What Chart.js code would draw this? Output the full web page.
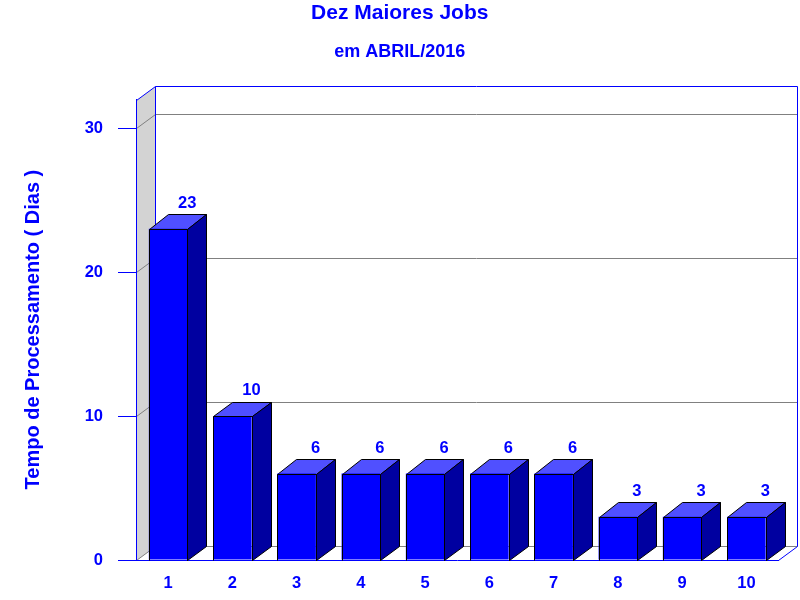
<!DOCTYPE html>
<html>
<head>
<meta charset="utf-8">
<title>Dez Maiores Jobs</title>
<script src="https://cdn.jsdelivr.net/npm/chart.js@4"></script>
<style>
    body { margin: 0; background: #fff; }
    canvas { display: block; }
</style>
</head>
<body>
<canvas id="jobs" width="800" height="600"></canvas>
<script>
let categories = ["1", "2", "3", "4", "5", "6", "7", "8", "9", "10"];
let dias = [23, 10, 6, 6, 6, 6, 6, 3, 3, 3];
let yTicks = [0, 10, 20, 30];

const BLUE = '#0000ff';
const FONT = '"Liberation Sans", Arial, sans-serif';
// depth of the fake 3d box, in pixels
const DX = 19;
const DY = 14.4;

function crisp(v) {
    return Math.round(v) + 0.5;
}

function line(ctx, color, x1, y1, x2, y2) {
    ctx.strokeStyle = color;
    ctx.lineWidth = 1;
    ctx.beginPath();
    ctx.moveTo(x1, y1);
    ctx.lineTo(x2, y2);
    ctx.stroke();
}

function face(ctx, color, pts) {
    ctx.fillStyle = color;
    ctx.strokeStyle = '#000';
    ctx.lineWidth = 1;
    ctx.beginPath();
    ctx.moveTo(pts[0][0], pts[0][1]);
    for (let i = 1; i < pts.length; i++) {
        ctx.lineTo(pts[i][0], pts[i][1]);
    }
    ctx.closePath();
    ctx.fill();
    ctx.stroke();
}

let box3d = {
    id: 'box3d',
    // walls and grid of the box, behind the axes
    beforeDraw(chart) {
        let ctx = chart.ctx;
        let a = chart.chartArea;
        let l = Math.floor(a.left) + 0.5;
        let r = Math.floor(a.right) + 0.5;
        let t = Math.ceil(a.top) + 0.5;
        let b = crisp(a.bottom);
        let backL = l + DX, backR = r + DX, backT = crisp(t - DY), backB = crisp(b - DY);

        ctx.save();
        ctx.fillStyle = '#d3d3d3';
        ctx.beginPath();
        ctx.moveTo(l, t);
        ctx.lineTo(backL, backT);
        ctx.lineTo(backL, backB);
        ctx.lineTo(l, b);
        ctx.closePath();
        ctx.fill();

        chart.scales.y.ticks.forEach(tick => {
            let y = crisp(chart.scales.y.getPixelForValue(tick.value));
            let by = crisp(y - DY);
            line(ctx, '#808080', l, y, backL, by);
            line(ctx, '#808080', backL, by, backR, by);
        });

        line(ctx, BLUE, backL, backT, backR, backT);
        line(ctx, BLUE, backL, backT, backL, backB);
        line(ctx, BLUE, backR, backT, backR, backB);
        line(ctx, BLUE, l, t, backL, backT);
        line(ctx, BLUE, r, b, backR, backB);
        ctx.restore();
    },
    // top and side of each bar
    beforeDatasetsDraw(chart) {
        let ctx = chart.ctx;
        let bars = chart.getDatasetMeta(0).data;
        let base = crisp(chart.scales.y.getPixelForValue(0));
        ctx.save();
        bars.forEach(bar => {
            let x1 = crisp(bar.x - bar.width / 2);
            let x2 = crisp(bar.x + bar.width / 2);
            let y = crisp(bar.y);
            let by = crisp(bar.y - DY);
            face(ctx, '#5050ff', [[x1, y], [x1 + DX, by], [x2 + DX, by], [x2, y]]);
            face(ctx, '#0000a0', [[x2, y], [x2 + DX, by], [x2 + DX, crisp(base - DY)], [x2, base]]);
        });
        ctx.restore();
    },
    // front outline on whole pixels, and the values over the bars
    afterDatasetsDraw(chart) {
        let ctx = chart.ctx;
        let bars = chart.getDatasetMeta(0).data;
        let base = crisp(chart.scales.y.getPixelForValue(0));
        ctx.save();
        bars.forEach(bar => {
            let x1 = crisp(bar.x - bar.width / 2);
            let x2 = crisp(bar.x + bar.width / 2);
            let y = crisp(bar.y);
            ctx.strokeStyle = '#000';
            ctx.lineWidth = 1;
            ctx.beginPath();
            ctx.moveTo(x1, base);
            ctx.lineTo(x1, y);
            ctx.lineTo(x2, y);
            ctx.lineTo(x2, base);
            ctx.stroke();
        });
        ctx.fillStyle = BLUE;
        ctx.font = 'bold 16.5px ' + FONT;
        ctx.textAlign = 'center';
        ctx.textBaseline = 'middle';
        bars.forEach((bar, i) => {
            ctx.fillText(dias[i], bar.x + DX, bar.y - DY - 11);
        });
        ctx.restore();
    }
};

let ctx = document.getElementById("jobs").getContext("2d");

let jobsChart = new Chart(ctx, {
    type: 'bar',
    data: {
        labels: categories,
        datasets: [{
            label: "Dias",
            data: dias,
            backgroundColor: BLUE,
            borderWidth: 0,
            barPercentage: 0.6,
            categoryPercentage: 1
        }]
    },
    plugins: [box3d],
    options: {
        responsive: false,
        animation: false,
        layout: {
            padding: { left: 21, right: 21.5, top: 0, bottom: 0 }
        },
        plugins: {
            legend: { display: false },
            tooltip: { enabled: false },
            title: {
                display: true,
                text: "Dez Maiores Jobs",
                color: BLUE,
                font: { family: FONT, size: 21, weight: 'bold', lineHeight: 1.2 },
                padding: { top: 0.5, bottom: 15.5 }
            },
            subtitle: {
                display: true,
                text: "em ABRIL/2016",
                color: BLUE,
                font: { family: FONT, size: 18, weight: 'bold', lineHeight: 1.2 },
                padding: { top: 0, bottom: 36.4 }
            }
        },
        scales: {
            x: {
                grid: { display: false },
                border: { display: true, color: BLUE },
                ticks: {
                    color: BLUE,
                    font: { family: FONT, size: 16.5, weight: 'bold' },
                    padding: 6,
                    maxRotation: 0
                },
                afterFit(scale) { scale.height = 40; }
            },
            y: {
                min: 0,
                max: 32,
                afterBuildTicks(scale) {
                    scale.ticks = yTicks.map(v => ({ value: v }));
                },
                grid: {
                    drawOnChartArea: false,
                    drawTicks: true,
                    tickLength: 18,
                    tickColor: BLUE
                },
                border: { display: true, color: BLUE },
                ticks: {
                    color: BLUE,
                    font: { family: FONT, size: 16.5, weight: 'bold' },
                    padding: 15
                },
                title: {
                    display: true,
                    text: "Tempo de Processamento ( Dias )",
                    color: BLUE,
                    font: { family: FONT, size: 20, weight: 'bold' },
                    padding: 0
                },
                afterFit(scale) { scale.width = 115; }
            }
        }
    }
});
</script>
</body>
</html>
